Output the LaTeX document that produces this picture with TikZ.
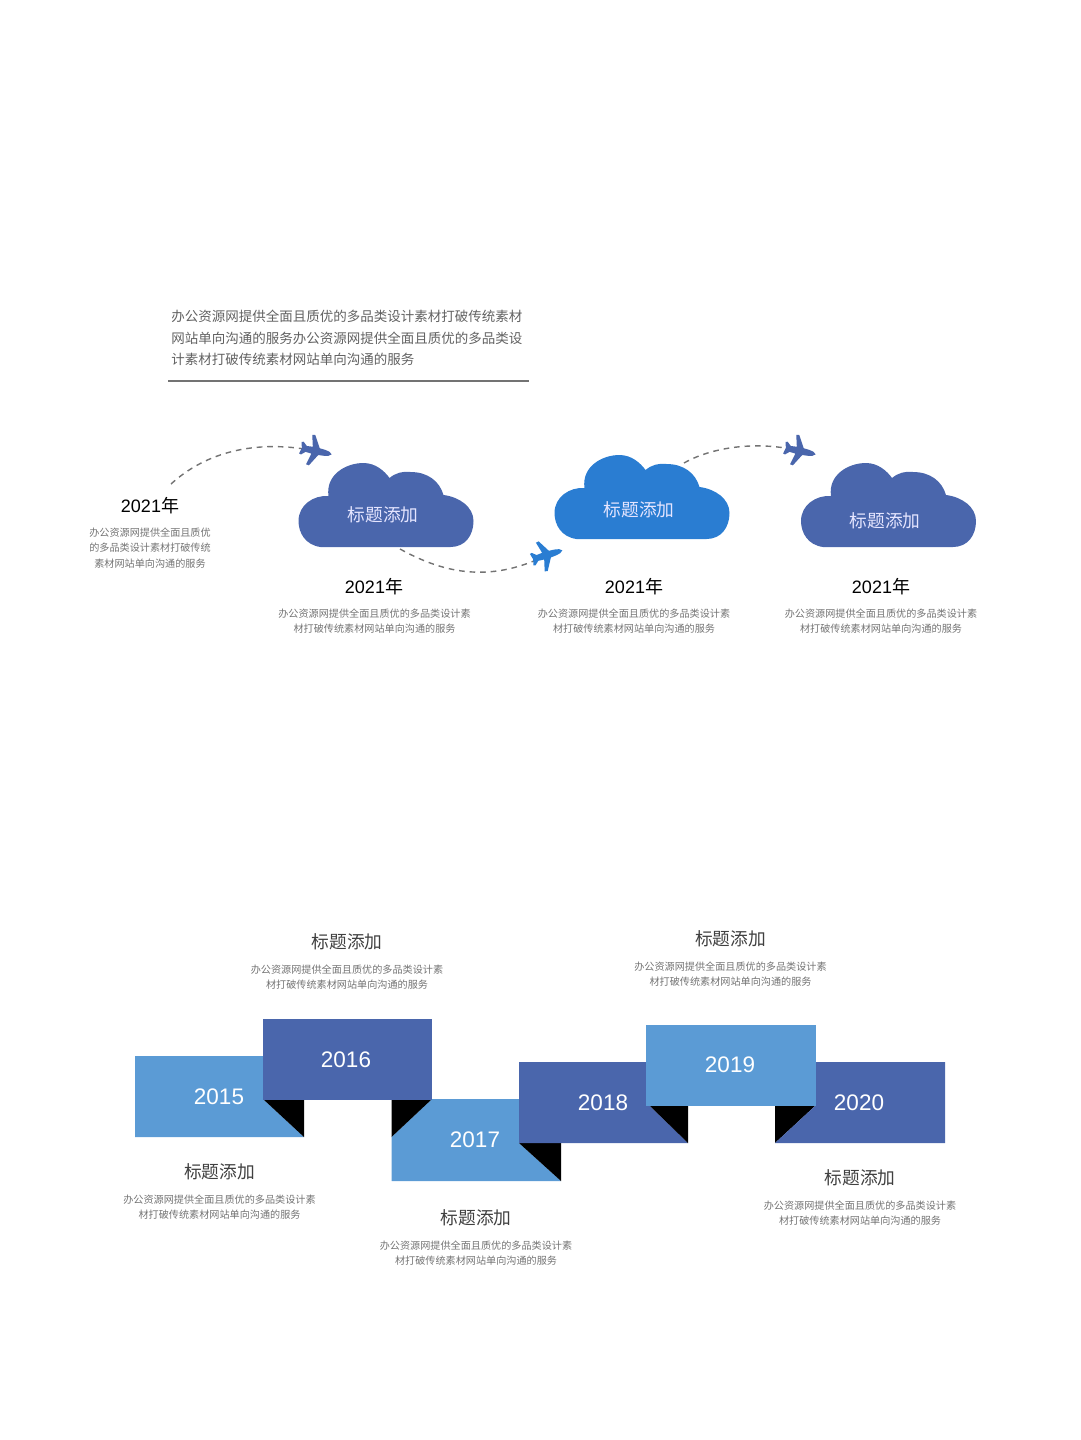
\documentclass[tikz,border=0pt]{standalone}
\usepackage{fontspec}
\setmainfont{Liberation Sans}
\newfontfamily\cjk{Noto Sans CJK SC}
\definecolor{darkblue}{HTML}{4A66AC}
\definecolor{midblue}{HTML}{2A7DD2}
\definecolor{lightblue}{HTML}{5B9BD5}
\newcommand{\descline}{办公资源网提供全面且质优的多品类设计素\\材打破传统素材网站单向沟通的服务}
\tikzset{
yearlabel/.style={font=\fontsize{12.8}{15}\selectfont,text=black},
desclabel/.style={font=\fontsize{7.2}{11}\selectfont\cjk,text=black!55,align=center},
titlelabel/.style={font=\fontsize{12.6}{15}\selectfont\cjk,text=black!75},
cloudlabel/.style={font=\fontsize{12.6}{15}\selectfont\cjk,text=blue!10!white},
boxlabel/.style={font=\fontsize{16}{18}\selectfont,text=white},
flight/.style={dash pattern=on 4pt off 3.5pt,black!55,line width=1pt},
cloudshape/.pic={
\fill[pic actions] (-65,42) .. controls (-80,40) and (-87,28) .. (-87,16)
.. controls (-87,0) and (-72,-10) .. (-57,-9)
.. controls (-60,-30) and (-40,-42) .. (-22,-42)
.. controls (-10,-42) and (-1,-34) .. (4,-27)
.. controls (10,-32) and (17,-34) .. (25,-33)
.. controls (42,-33) and (54,-24) .. (58,-10)
.. controls (74,-8) and (88,2) .. (88,16)
.. controls (88,30) and (80,42) .. (65,42) -- cycle;
},
planeshape/.pic={
\fill[pic actions] (16,0) .. controls (15,2) and (12,2.5) .. (9,3) -- (3,3.5)
-- (-4,15.5) -- (-7,15) -- (-4,3.5) -- (-10,3) -- (-14,6.5) -- (-16,6) -- (-14.5,0)
-- (-16,-6) -- (-14,-6.5) -- (-10,-3) -- (-4,-3.5) -- (-7,-15) -- (-4,-15.5)
-- (3,-3.5) -- (9,-3) .. controls (12,-2.5) and (15,-2) .. (16,0) -- cycle;
}
}
\begin{document}
\begin{tikzpicture}[x=.025cm,y=-.025cm]
\useasboundingbox (0,0) rectangle (1080,1440);
\node[anchor=west,inner sep=0pt,font=\fontsize{9.6}{15.2}\selectfont\cjk,text=black!62,align=left] (intro) at (171,338) {办公资源网提供全面且质优的多品类设计素材打破传统素材\\网站单向沟通的服务办公资源网提供全面且质优的多品类设\\计素材打破传统素材网站单向沟通的服务};
\coordinate (ruleleft) at (168,381);
\coordinate (ruleright) at (529,381);
\draw[black!55,line width=.9pt] (ruleleft) -- (ruleright);
\coordinate (cloudone) at (385.5,505);
\coordinate (cloudtwo) at (641.5,497);
\coordinate (cloudthree) at (888,505);
\pic[fill=darkblue] at (cloudone) {cloudshape};
\pic[fill=midblue] at (cloudtwo) {cloudshape};
\pic[fill=darkblue] at (cloudthree) {cloudshape};
\node[cloudlabel] (labelone) at (383,515) {标题添加};
\node[cloudlabel] (labeltwo) at (639,510) {标题添加};
\node[cloudlabel] (labelthree) at (885,521) {标题添加};
\coordinate (startone) at (171,484);
\coordinate (starttwo) at (400,549);
\coordinate (startthree) at (684,463);
\coordinate (planeone) at (316,451);
\coordinate (planetwo) at (547,555);
\coordinate (planethree) at (800,451);
\draw[flight] (startone) .. controls +(35,-32) and +(-60,-12) .. (planeone);
\draw[flight] (starttwo) .. controls +(40,22) and +(-60,30) .. (planetwo);
\draw[flight] (startthree) .. controls +(30,-17) and +(-40,-10) .. (planethree);
\pic[fill=darkblue,rotate=-12] at (planeone) {planeshape};
\pic[fill=midblue,rotate=17] at (planetwo) {planeshape};
\pic[fill=darkblue,rotate=-12] at (planethree) {planeshape};
\node[yearlabel] (yearone) at (150,506) {2021{\cjk 年}};
\node[yearlabel] (yeartwo) at (374,587) {2021{\cjk 年}};
\node[yearlabel] (yearthree) at (634,587) {2021{\cjk 年}};
\node[yearlabel] (yearfour) at (881,587) {2021{\cjk 年}};
\node[desclabel] (descone) at (150,548) {办公资源网提供全面且质优\\的多品类设计素材打破传统\\素材网站单向沟通的服务};
\node[desclabel] (desctwo) at (374.5,621) {\descline};
\node[desclabel] (descthree) at (634,621) {\descline};
\node[desclabel] (descfour) at (881,621) {\descline};
\fill[lightblue] (135,1056) -- (263,1056) -- (263,1099) -- (304,1137) -- (135,1137) -- cycle;
\fill[black] (263,1099) -- (304,1099) -- (304,1137) -- cycle;
\fill[lightblue] (391.5,1137) -- (432,1099) -- (519,1099) -- (519,1143) -- (561,1181) -- (391.5,1181) -- cycle;
\fill[black] (391.5,1099) -- (432,1099) -- (391.5,1137) -- cycle;
\fill[darkblue] (263,1019) rectangle (432,1100);
\fill[black] (519,1143) -- (561,1143) -- (561,1181) -- cycle;
\fill[darkblue] (519,1062) -- (646,1062) -- (646,1106) -- (650,1106) -- (688,1143) -- (519,1143) -- cycle;
\fill[black] (650,1106) -- (688,1106) -- (688,1143) -- cycle;
\fill[black] (775,1106) -- (815,1106) -- (775,1143) -- cycle;
\fill[darkblue] (775,1143) -- (815,1106) -- (815,1062) -- (945,1062) -- (945,1143) -- cycle;
\fill[lightblue] (646,1025) rectangle (816,1106);
\foreach \y/\xa/\ya in {2015/219/1097,2016/346/1060,2017/475/1140,2018/603/1103,2019/730/1065,2020/859/1103}
\node[boxlabel] (box\y) at (\xa,\ya) {\y};
\foreach \n/\xa/\ya in {a/219.5/1172,b/347/942,c/476/1218,d/730.5/939,e/860/1178}
\node[titlelabel] (title\n) at (\xa,\ya) {标题添加};
\foreach \n/\xa/\ya in {a/219.5/1207,b/347/977,c/476/1253,d/730.5/974,e/860/1213}
\node[desclabel] (text\n) at (\xa,\ya) {\descline};
\end{tikzpicture}
\end{document}
